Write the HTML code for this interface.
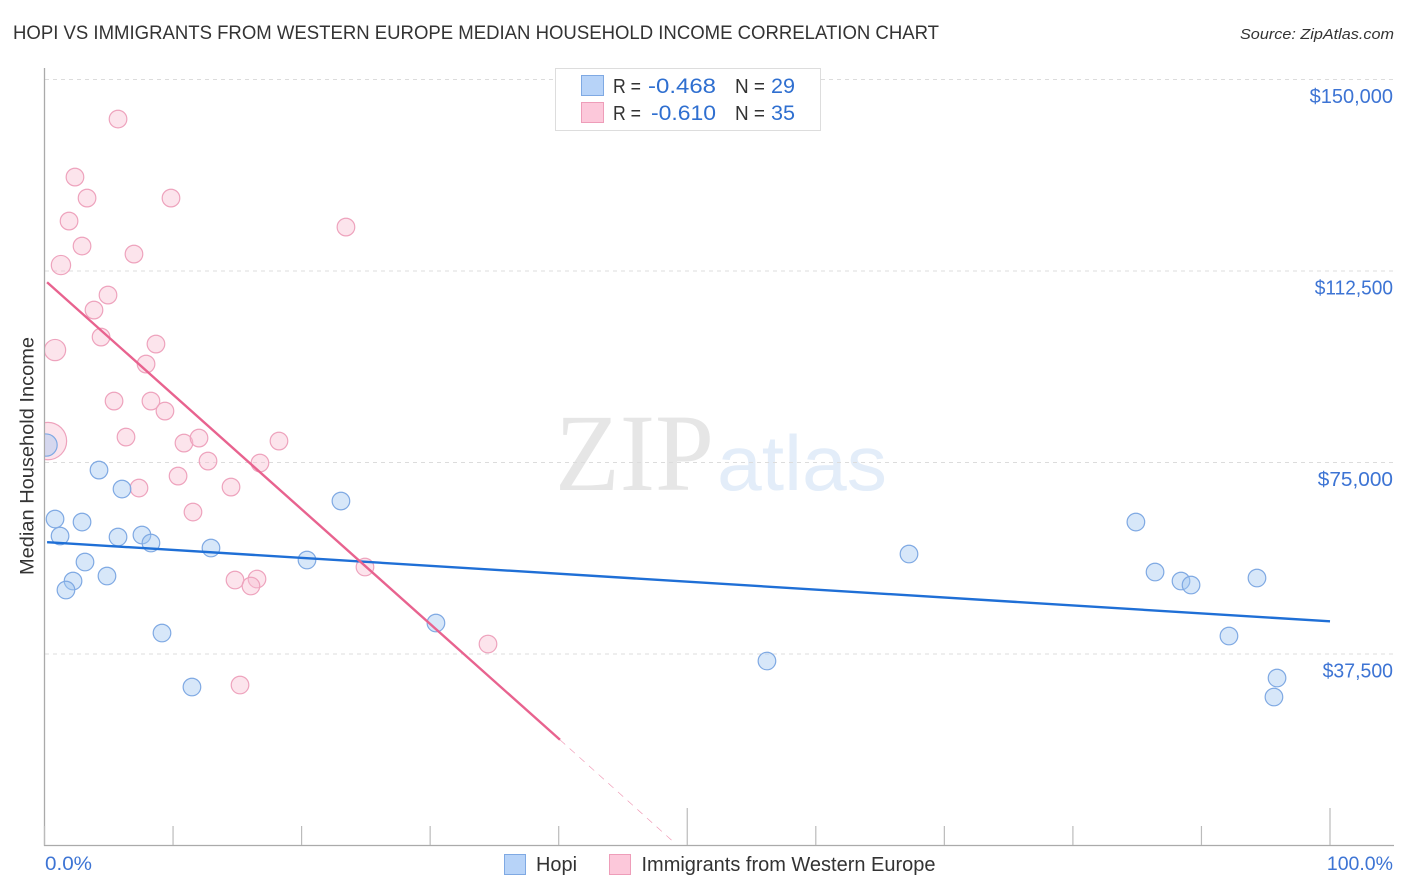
<!DOCTYPE html>
<html lang="en">
<head>
<meta charset="utf-8">
<title>Hopi vs Immigrants from Western Europe Median Household Income Correlation Chart</title>
<style>
html,body{margin:0;padding:0;background:#fff;width:1406px;height:892px;overflow:hidden}
svg{display:block;font-family:"Liberation Sans",sans-serif}
</style>
</head>
<body>
<svg id="chart" xmlns="http://www.w3.org/2000/svg" width="1406" height="892" viewBox="0 0 1406 892">
  <defs>
    <clipPath id="plot-clip"><rect x="45" y="60" width="1350" height="785"/></clipPath>
  </defs>
  <rect width="1406" height="892" fill="#ffffff"/>
  <text x="13" y="39" font-size="19.5" fill="#333333" textLength="926" lengthAdjust="spacingAndGlyphs">HOPI VS IMMIGRANTS FROM WESTERN EUROPE MEDIAN HOUSEHOLD INCOME CORRELATION CHART</text>
  <text x="1394" y="39" font-size="15" font-style="italic" fill="#333333" text-anchor="end" textLength="154" lengthAdjust="spacingAndGlyphs">Source: ZipAtlas.com</text>
  <g>
    <text x="555" y="490" font-family="'Liberation Serif',serif" font-size="110" fill="#e6e6e6" textLength="159" lengthAdjust="spacingAndGlyphs">ZIP</text>
    <text x="717" y="490" font-size="78" fill="#e3edf9" textLength="170" lengthAdjust="spacingAndGlyphs">atlas</text>
  </g>
  <g id="grid"></g>
  <g id="axes"></g>
  <g id="marks" clip-path="url(#plot-clip)"></g>
  <g id="lines"></g>
  <g id="labels"></g>
  <text transform="translate(33.5,456) rotate(-90)" font-size="19.5" fill="#333333" text-anchor="middle" textLength="238" lengthAdjust="spacingAndGlyphs">Median Household Income</text>

  <g>
    <rect x="555.5" y="68.5" width="265" height="62" fill="#ffffff" stroke="#dddddd" stroke-width="1"/>
    <rect x="581.5" y="75.5" width="22" height="20" fill="#b7d3f8" stroke="#7fa9e3"/>
    <rect x="581.5" y="102.5" width="22" height="20" fill="#fcc8da" stroke="#ee9db9"/>
    <text x="613" y="93" font-size="20" fill="#333333" textLength="28" lengthAdjust="spacingAndGlyphs">R =</text>
    <text x="648" y="93" font-size="21" fill="#2f6fd0" textLength="68" lengthAdjust="spacingAndGlyphs">-0.468</text>
    <text x="735" y="93" font-size="20" fill="#333333" textLength="30" lengthAdjust="spacingAndGlyphs">N =</text>
    <text x="771" y="93" font-size="21" fill="#2f6fd0" textLength="24" lengthAdjust="spacingAndGlyphs">29</text>
    <text x="613" y="120" font-size="20" fill="#333333" textLength="28" lengthAdjust="spacingAndGlyphs">R =</text>
    <text x="651" y="120" font-size="21" fill="#2f6fd0" textLength="65" lengthAdjust="spacingAndGlyphs">-0.610</text>
    <text x="735" y="120" font-size="20" fill="#333333" textLength="30" lengthAdjust="spacingAndGlyphs">N =</text>
    <text x="771" y="120" font-size="21" fill="#2f6fd0" textLength="24" lengthAdjust="spacingAndGlyphs">35</text>
  </g>

  <g>
    <g>
      <rect x="504.5" y="854.5" width="21" height="20" fill="#b7d3f8" stroke="#7fa9e3"/>
      <text x="536" y="871" font-size="20" fill="#333333" textLength="41" lengthAdjust="spacingAndGlyphs">Hopi</text>
    </g>
    <g>
      <rect x="609.5" y="854.5" width="21" height="20" fill="#fcc8da" stroke="#ee9db9"/>
      <text x="641.5" y="871" font-size="20" fill="#333333" textLength="294" lengthAdjust="spacingAndGlyphs">Immigrants from Western Europe</text>
    </g>
  </g>
</svg>

<script>
// Data
const yTickValues = [37500, 75000, 112500, 150000];
const yTickLabels = ["$37,500", "$75,000", "$112,500", "$150,000"];
const xTickValues = [0, 10, 20, 30, 40, 50, 60, 70, 80, 90, 100];
const xMajorTicks = [50, 100];
const xTickLabels = ["0.0%", "100.0%"];

const hopiX = [0.12, 4.24, 6.03, 0.82, 2.92, 1.21, 5.72, 7.58, 8.28, 3.15, 12.95, 20.42, 2.22, 4.86, 1.67, 9.14, 11.47, 23.06, 30.45, 56.2, 67.25, 84.9, 86.39, 88.41, 89.19, 92.14, 94.32, 95.88, 95.64];
const hopiY = [78418, 73523, 69803, 63929, 63341, 60600, 60404, 60796, 59230, 55509, 58251, 55901, 51789, 52768, 50027, 41608, 31034, 67453, 43566, 36125, 57076, 63341, 53551, 51789, 51006, 41020, 52377, 32797, 29076];
const hopiWeight = [1.6, 1, 1, 1, 1, 1, 1, 1, 1, 1, 1, 1, 1, 1, 1, 1, 1, 1, 1, 1, 1, 1, 1, 1, 1, 1, 1, 1, 1];

const immigrantsX = [5.72, 2.37, 3.31, 9.84, 1.91, 23.45, 2.92, 6.96, 1.28, 4.94, 3.85, 4.40, 0.82, 8.67, 7.90, 5.41, 8.28, 9.37, 6.34, 10.85, 12.02, 0.27, 12.72, 16.76, 18.24, 10.39, 7.35, 14.51, 11.55, 14.82, 16.53, 16.06, 24.93, 34.5, 15.21];
const immigrantsY = [142249, 130892, 126781, 126781, 122277, 121102, 117382, 115816, 113662, 107788, 104851, 99564, 97019, 98194, 94278, 87033, 87033, 85075, 79984, 78810, 79789, 79201, 75285, 74894, 79201, 72348, 69999, 70194, 65299, 51985, 52181, 50810, 54530, 39454, 31426];
const immigrantsWeight = [1, 1, 1, 1, 1, 1, 1, 1, 1.2, 1, 1, 1, 1.45, 1, 1, 1, 1, 1, 1, 1, 1, 4.5, 1, 1, 1, 1, 1, 1, 1, 1, 1, 1, 1, 1, 1];

const hopiTrendX = [0.2, 100];
const hopiTrendY = [59400, 43900];
const immigrantsTrendX = [0.2, 40.1];
const immigrantsTrendY = [110300, 20700];
const immigrantsDashX = [40.1, 48.8];
const immigrantsDashY = [20700, 1000];

// Axis functions
function xScale(v) { return 44.5 + v * 12.855; }
function yScale(v) { return 845.5 - v * 191.5 / 37500; }

const NS = "http://www.w3.org/2000/svg";
function make(tag, parentId, props) {
  const el = document.createElementNS(NS, tag);
  for (const k in props) el.setAttribute(k, props[k]);
  document.getElementById(parentId).appendChild(el);
  return el;
}

// Width of a rendered tick label, fitted per glyph to the reference typeface
function tickLabelWidth(label) {
  let w = 0;
  for (const ch of label) {
    if (ch === "1") w += 7.6;
    else if (ch === ",") w += 4.4;
    else if (ch === "$") w += 11;
    else if (ch === "0") w += 12.2;
    else if (ch === "3") w += 7.4;
    else w += 11.6;
  }
  return w;
}

// Gridlines and y tick labels
yTickValues.forEach(function (v, i) {
  const gl = make("line", "grid", {x1: 45, x2: 1393, y1: yScale(v), y2: yScale(v), stroke: "#dcdcdc", "stroke-width": 1, "stroke-dasharray": "4 4"});
  
  
  const t = make("text", "labels", {x: 1393, y: yScale(v) + 23.5, "font-size": 20, fill: "#3d74d4", "text-anchor": "end", textLength: tickLabelWidth(yTickLabels[i]), lengthAdjust: "spacingAndGlyphs"});
  t.textContent = yTickLabels[i];
  
  
});

// Axes
const yAxis = make("line", "axes", {x1: 44.5, x2: 44.5, y1: 68, y2: 846, stroke: "#aaaaaa", "stroke-width": 1.3});


const xAxis = make("line", "axes", {x1: 44, x2: 1394, y1: 845.5, y2: 845.5, stroke: "#aaaaaa", "stroke-width": 1.3});


xTickValues.forEach(function (v) {
  const top = xMajorTicks.indexOf(v) >= 0 ? 808 : 826;
  const tk = make("line", "axes", {x1: xScale(v), x2: xScale(v), y1: top, y2: 845, stroke: "#bbbbbb", "stroke-width": 1.2});
  
  
});
const xl0 = make("text", "labels", {x: 45, y: 870, "font-size": 19.5, fill: "#3d74d4", textLength: 47, lengthAdjust: "spacingAndGlyphs"});
xl0.textContent = xTickLabels[0];


const xl1 = make("text", "labels", {x: 1393, y: 870, "font-size": 19.5, fill: "#3d74d4", "text-anchor": "end"});
xl1.textContent = xTickLabels[1];



// Points
function radius(w) { return 8.8 * Math.sqrt(w); }
immigrantsX.forEach(function (v, i) {
  const c = make("circle", "marks", {cx: xScale(v), cy: yScale(immigrantsY[i]), r: radius(immigrantsWeight[i]), fill: "rgba(248,190,210,0.42)", stroke: "#eea3bd", "stroke-width": 1.2});
  
  
});
hopiX.forEach(function (v, i) {
  const c = make("circle", "marks", {cx: xScale(v), cy: yScale(hopiY[i]), r: radius(hopiWeight[i]), fill: "rgba(160,197,240,0.42)", stroke: "#7fa9e3", "stroke-width": 1.2});
  
  
});

// Trend lines
const hopiLine = make("line", "lines", {x1: xScale(hopiTrendX[0]), y1: yScale(hopiTrendY[0]), x2: xScale(hopiTrendX[1]), y2: yScale(hopiTrendY[1]), stroke: "#1f6fd6", "stroke-width": 2.4});


const immLine = make("line", "lines", {x1: xScale(immigrantsTrendX[0]), y1: yScale(immigrantsTrendY[0]), x2: xScale(immigrantsTrendX[1]), y2: yScale(immigrantsTrendY[1]), stroke: "#e8638f", "stroke-width": 2.4});


const immDash = make("line", "lines", {x1: xScale(immigrantsDashX[0]), y1: yScale(immigrantsDashY[0]), x2: xScale(immigrantsDashX[1]), y2: yScale(immigrantsDashY[1]), stroke: "#ee8fae", "stroke-width": 0.6, "stroke-dasharray": "7 6"});


</script>
</body>
</html>
